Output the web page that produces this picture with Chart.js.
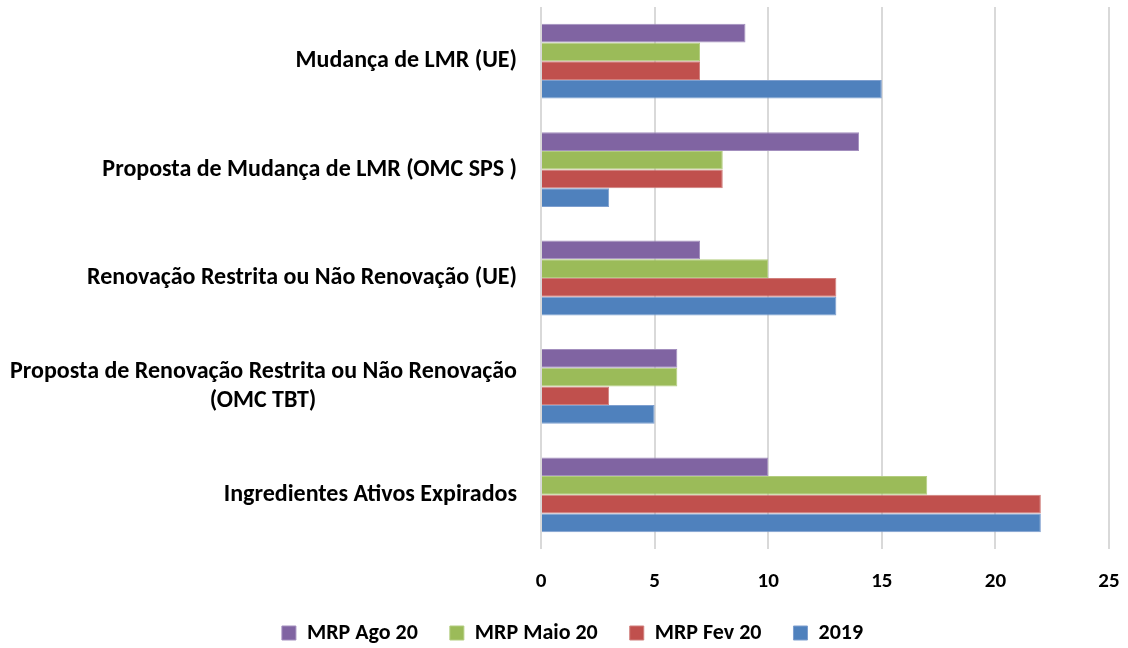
<!DOCTYPE html>
<html>
<head>
<meta charset="utf-8">
<script src="https://cdn.jsdelivr.net/npm/chart.js@4"></script>
<style>
  html, body { margin: 0; background: #fff; }
  #wrap { width: 1128px; height: 648px; }
</style>
</head>
<body>
<div id="wrap"><canvas id="chart"></canvas></div>
<script>
const categories = [
  'Mudança de LMR (UE)',
  'Proposta de Mudança de LMR (OMC SPS )',
  'Renovação Restrita ou Não Renovação (UE)',
  ['Proposta de Renovação Restrita ou Não Renovação', '(OMC TBT)'],
  'Ingredientes Ativos Expirados'
];
const seriesNames = ['MRP Ago 20', 'MRP Maio 20', 'MRP Fev 20', '2019'];
const mrpAgo20  = [9, 14, 7, 6, 10];
const mrpMaio20 = [7, 8, 10, 6, 17];
const mrpFev20  = [7, 8, 13, 3, 22];
const y2019     = [15, 3, 13, 5, 22];
const xMin = 0, xMax = 25, xStep = 5;

const FAMILY = 'Carlito, Lato, sans-serif';
const CAT_SIZE = 24;
const TICK_SIZE = 21;
const LEGEND_SIZE = 22;
const LEGEND_PAD = 32;

// pad the shorter lines of a multi-line label with spaces so they look centred
const measureCtx = document.createElement('canvas').getContext('2d');
function centreLines(label) {
  if (!Array.isArray(label)) return label;
  measureCtx.font = `bold ${CAT_SIZE}px ${FAMILY}`;
  const widths = label.map(l => measureCtx.measureText(l).width);
  const maxW = Math.max(...widths);
  const sp = measureCtx.measureText(' ').width;
  return label.map((l, i) => l + ' '.repeat(Math.round((maxW - widths[i]) / 2 / sp)));
}

// legend takes 40px in the layout, then gets moved to the spot used in the original
const legendPlace = {
  id: 'legendPlace',
  beforeLayout(chart) {
    const lg = chart.legend;
    if (lg && !lg._patched) {
      const fit = lg.fit;
      lg.fit = function () { fit.call(this); this.height = 40; };
      lg._patched = true;
    }
  },
  afterLayout(chart) {
    const lg = chart.legend;
    const dx = 18;
    lg.left += dx; lg.right += dx;
    lg.top = 635 - LEGEND_PAD - 13;
    lg.bottom = 648;
    lg.height = lg.bottom - lg.top;
  }
};

const colors  = ['#8064a2', '#9bbb59', '#c0504d', '#4f81bd'];
const borders = ['#a38fbe', '#b3cd80', '#d07f7c', '#7e9fcf'];
const values  = [mrpAgo20, mrpMaio20, mrpFev20, y2019];

const ctx = document.getElementById('chart').getContext('2d');
new Chart(ctx, {
  type: 'bar',
  data: {
    labels: categories,
    datasets: seriesNames.map((name, i) => ({
      label: name,
      data: values[i],
      backgroundColor: colors[i],
      borderColor: borders[i],
      borderWidth: 1,
      barPercentage: 1,
      categoryPercentage: 0.69
    }))
  },
  options: {
    indexAxis: 'y',
    responsive: true,
    maintainAspectRatio: false,
    animation: false,
    layout: { padding: { top: 7, right: 19, left: 0, bottom: 0 } },
    plugins: {
      tooltip: { enabled: false },
      legend: {
        position: 'bottom',
        labels: {
          color: '#000',
          boxWidth: 14,
          boxHeight: 14,
          padding: LEGEND_PAD,
          font: { family: FAMILY, size: LEGEND_SIZE, weight: 'bold' }
        }
      }
    },
    scales: {
      x: {
        min: xMin, max: xMax,
        ticks: {
          stepSize: xStep,
          color: '#000',
          padding: 20,
          font: { family: FAMILY, size: TICK_SIZE, weight: 'bold' }
        },
        grid: { color: '#d9d9d9', lineWidth: 2, drawTicks: false },
        border: { display: false },
        afterFit(scale) {
          scale.height = 59;
          scale.paddingLeft = 0;
          scale.paddingRight = 0;
        }
      },
      y: {
        ticks: {
          color: '#000',
          padding: 24,
          font: { family: FAMILY, size: CAT_SIZE, weight: 'bold' },
          callback(value) { return centreLines(categories[value]); }
        },
        grid: { display: false, drawTicks: false },
        border: { display: false },
        afterFit(scale) {
          scale.width = 541;
          scale.paddingTop = 0;
          scale.paddingBottom = 0;
        }
      }
    }
  },
  plugins: [legendPlace]
});
</script>
</body>
</html>
